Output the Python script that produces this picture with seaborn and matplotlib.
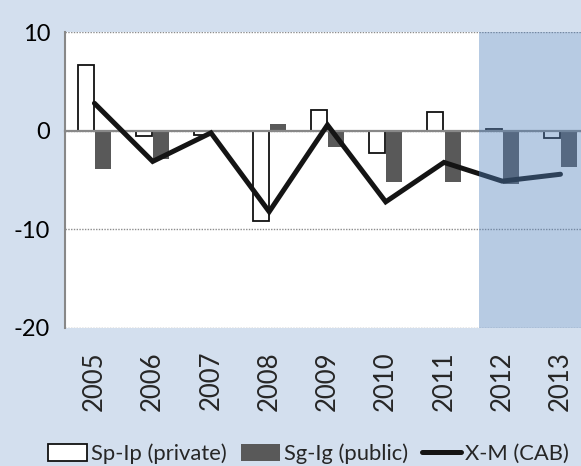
import numpy as np
import pandas as pd
import matplotlib
matplotlib.use("Agg")
import matplotlib.pyplot as plt
from matplotlib.patches import Patch
from matplotlib.lines import Line2D
import seaborn as sns

years = ["2005", "2006", "2007", "2008", "2009", "2010", "2011", "2012", "2013"]
private = [6.7, -0.5, -0.4, -9.1, 2.1, -2.2, 1.9, 0.2, -0.7]
public = [-3.9, -2.9, -0.1, 0.65, -1.6, -5.2, -5.2, -5.4, -3.7]
cab = [2.8, -3.1, -0.2, -8.2, 0.6, -7.2, -3.2, -5.1, -4.4]
series_labels = ["Sp-Ip (private)", "Sg-Ig (public)", "X-M (CAB)"]
yticks = [-20, -10, 0, 10]
forecast_start = "2012"

sns.set_style("white")
plt.rcParams["font.family"] = ["Lato", "DejaVu Sans"]
plt.rcParams["axes.unicode_minus"] = False

BG = "#d3dfee"
GRAY = "#888888"
BARGRAY = "#595959"

fig = plt.figure(figsize=(5.81, 4.66), dpi=100, facecolor=BG)
ax = fig.add_axes([65.3 / 581, 1 - 328 / 466, 524.3 / 581, 295.7 / 466])
ax.set_facecolor("white")

df = pd.DataFrame({
    "year": years * 2,
    "series": ["private"] * len(years) + ["public"] * len(years),
    "value": private + public,
})
sns.barplot(data=df, x="year", y="value", hue="series", hue_order=["private", "public"],
            palette={"private": "white", "public": BARGRAY}, saturation=1,
            width=0.59, gap=0.07, errorbar=None, legend=False, ax=ax, zorder=1)
for bar in ax.containers[0]:
    bar.set_edgecolor("#111111")
    bar.set_linewidth(1.3)
for bar in ax.containers[1]:
    bar.set_edgecolor("none")
    bar.set_linewidth(0)

xpos = np.arange(len(years))
sns.lineplot(x=xpos, y=cab, ax=ax, color="#141414", lw=3.6, zorder=4,
             solid_joinstyle="miter")

ax.set_xlim(-0.5, len(years) - 0.5)
ax.set_ylim(min(yticks), max(yticks))
ax.set_xlabel("")
ax.set_ylabel("")

# shaded forecast region
ax.axvspan(years.index(forecast_start) - 0.4, len(years) - 0.5, color="#5282bd",
           alpha=0.41, lw=0, zorder=5)

# spines
for s in ["top", "right"]:
    ax.spines[s].set_visible(False)
ax.spines["left"].set_color(GRAY)
ax.spines["left"].set_linewidth(1.5)
ax.spines["bottom"].set_position(("data", 0))
ax.spines["bottom"].set_color(GRAY)
ax.spines["bottom"].set_linewidth(1.6)
ax.spines["bottom"].set_zorder(2.5)

ax.set_xticks(np.arange(len(years) - 1) + 0.5, labels=[])
ax.tick_params(axis="x", length=7, width=1.4, color=GRAY, direction="out")
ax.set_yticks(yticks, labels=[str(v) for v in yticks])
ax.tick_params(axis="y", length=6, width=1.4, color=GRAY, pad=5,
               labelsize=17, labelcolor="black")

ax.set_axisbelow(True)
ax.yaxis.grid(True, linestyle=(0, (1, 1)), color="#8c8c8c", lw=1.0)
ax.xaxis.grid(False)

sec = ax.secondary_xaxis("bottom")
sec.set_xticks(xpos, labels=years)
sec.tick_params(length=0, pad=16.5, labelsize=18.5, labelrotation=90)
sec.spines["bottom"].set_visible(False)

handles = [
    Patch(facecolor="white", edgecolor="#111111", lw=1.3),
    Patch(facecolor=BARGRAY, edgecolor="none"),
    Line2D([0], [0], color="#141414", lw=3.6),
]
fig.legend(handles, series_labels, loc="center", bbox_to_anchor=(0.531, 0.026),
           ncol=3, frameon=False, handlelength=1.8, handleheight=0.75,
           handletextpad=0.18, columnspacing=0.62, fontsize=15.8,
           borderpad=0, borderaxespad=0)

fig.savefig("out.png", dpi=100, facecolor=BG)
